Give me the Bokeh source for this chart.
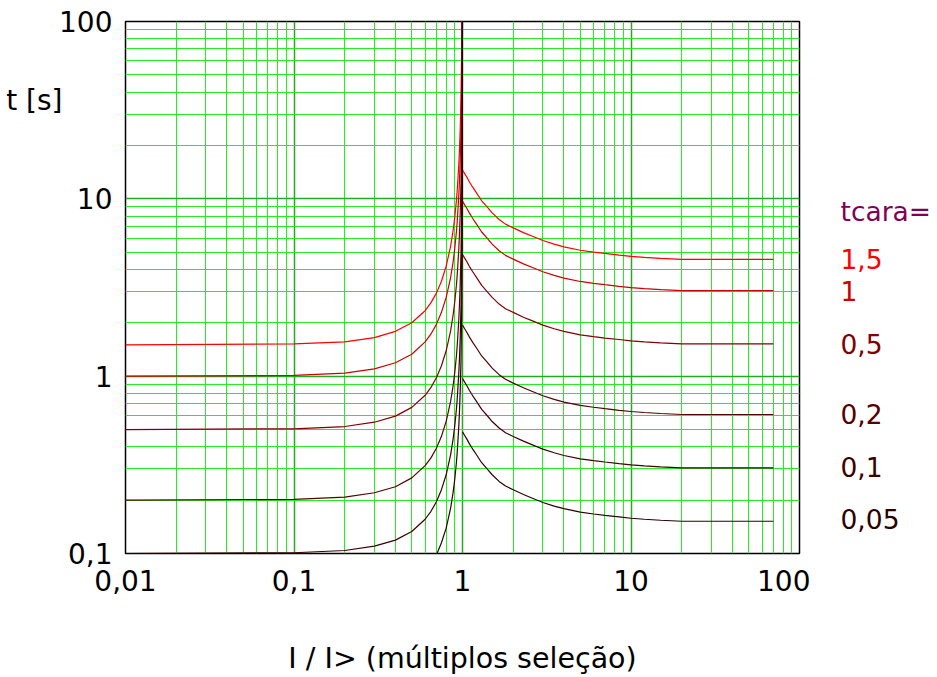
from bokeh.plotting import figure
from bokeh.models import Range1d, FixedTicker, LogAxis, ColumnDataSource
from bokeh.layouts import row
from bokeh.core.properties import value
from bokeh.embed import file_html
from bokeh.resources import INLINE

# ---- data ----
tcara_title = "tcara="
tcara_labels = ["1,5", "1", "0,5", "0,2", "0,1", "0,05"]
curve_colors = ["#ff0000", "#cc0000", "#800000", "#550000", "#3a0000", "#2b0000"]
title_color = "#800055"
# vertical position (t value) of the label baselines at the right
tcara_title_t = 8.52
label_t = [4.56, 3.01, 1.51, 0.608, 0.306, 0.156]

# left branch (I/I> < 1)
i_left = [0.01, 0.1, 0.2, 0.3, 0.4, 0.5, 0.6, 0.65, 0.7, 0.75, 0.8, 0.85, 0.88,
          0.9, 0.92, 0.93, 0.95, 0.96, 0.97, 0.98, 0.99, 0.995, 0.9975, 0.999, 0.9999]
t_left_15 = [1.5, 1.52, 1.56, 1.65, 1.79, 2.0, 2.34, 2.6, 2.94, 3.43, 4.17, 5.4,
             6.65, 7.9, 9.77, 11.1, 15.4, 19.2, 25.3, 38.0, 75.0, 150, 300, 750, 7500]
t_left_1 = [1.0, 1.01, 1.04, 1.1, 1.19, 1.33, 1.56, 1.73, 1.96, 2.29, 2.78, 3.6,
            4.43, 5.26, 6.51, 7.4, 10.3, 12.8, 16.9, 25.3, 50.3, 100.3, 200, 500, 5000]
t_left_05 = [0.5, 0.505, 0.52, 0.55, 0.595, 0.667, 0.78, 0.865, 0.98, 1.145, 1.39,
             1.8, 2.22, 2.63, 3.26, 3.7, 5.15, 6.4, 8.45, 12.6, 25.1, 50.1, 100, 250, 2500]
t_left_02 = [0.2, 0.202, 0.208, 0.22, 0.238, 0.267, 0.313, 0.346, 0.392, 0.458,
             0.556, 0.72, 0.886, 1.05, 1.3, 1.48, 2.06, 2.56, 3.38, 5.05, 10.05,
             20.05, 40, 100, 1000]
t_left_01 = [0.1, 0.101, 0.104, 0.11, 0.119, 0.133, 0.156, 0.173, 0.196, 0.229,
             0.278, 0.36, 0.443, 0.526, 0.651, 0.74, 1.03, 1.28, 1.69, 2.53, 5.03,
             10.0, 20.0, 50, 500]
t_left_005 = [0.05, 0.0505, 0.052, 0.055, 0.0595, 0.0667, 0.078, 0.0865, 0.098,
              0.115, 0.139, 0.18, 0.222, 0.263, 0.326, 0.37, 0.515, 0.64, 0.845,
              1.26, 2.51, 5.0, 10, 25, 250]

# right branch (I/I> > 1)
i_right = [1.0, 1.03, 1.06, 1.1, 1.15, 1.2, 1.3, 1.4, 1.5, 1.65, 1.8, 2.0, 2.3,
           2.6, 3.0, 3.5, 4.0, 5.0, 6.0, 7.0, 8.5, 10, 12, 15, 20, 70]
t_right_15 = [14.55, 13.88, 13.28, 12.45, 11.63, 10.95, 9.75, 9.0, 8.33, 7.65, 7.2,
              6.86, 6.45, 6.15, 5.82, 5.55, 5.36, 5.13, 5.01, 4.92, 4.82, 4.74,
              4.68, 4.62, 4.56, 4.56]
t_right_1 = [9.7, 9.25, 8.85, 8.3, 7.75, 7.3, 6.5, 6.0, 5.55, 5.1, 4.8, 4.57, 4.3,
             4.1, 3.88, 3.7, 3.57, 3.42, 3.34, 3.28, 3.21, 3.16, 3.12, 3.08, 3.04, 3.04]
t_right_05 = [4.85, 4.63, 4.43, 4.15, 3.88, 3.65, 3.25, 3.0, 2.78, 2.55, 2.4, 2.29,
              2.15, 2.05, 1.94, 1.85, 1.79, 1.71, 1.67, 1.64, 1.61, 1.58, 1.56,
              1.54, 1.52, 1.52]
t_right_02 = [1.94, 1.85, 1.77, 1.66, 1.55, 1.46, 1.3, 1.2, 1.11, 1.02, 0.96, 0.914,
              0.86, 0.82, 0.776, 0.74, 0.714, 0.684, 0.668, 0.656, 0.642, 0.632,
              0.624, 0.616, 0.608, 0.608]
t_right_01 = [0.97, 0.925, 0.885, 0.83, 0.775, 0.73, 0.65, 0.6, 0.555, 0.51, 0.48,
              0.457, 0.43, 0.41, 0.388, 0.37, 0.357, 0.342, 0.334, 0.328, 0.321,
              0.316, 0.312, 0.308, 0.304, 0.304]
t_right_005 = [0.485, 0.463, 0.443, 0.415, 0.388, 0.365, 0.325, 0.3, 0.278, 0.255,
               0.24, 0.229, 0.215, 0.205, 0.194, 0.185, 0.179, 0.171, 0.167, 0.164,
               0.161, 0.158, 0.156, 0.154, 0.152, 0.152]

left_series = [t_left_15, t_left_1, t_left_05, t_left_02, t_left_01, t_left_005]
right_series = [t_right_15, t_right_1, t_right_05, t_right_02, t_right_01, t_right_005]

x_major = [0.01, 0.1, 1, 10, 100]
x_major_text = ["0,01", "0,1", "1", "10", "100"]
y_major = [0.1, 1, 10, 100]
y_major_text = ["0,1", "1", "10", "100"]
y_title = "t [s]"
y_title_t = 36.0
x_title = "I / I> (múltiplos seleção)"

FONT = "DejaVu Sans"

yr = Range1d(0.1, 100)
p = figure(width=810, height=677, x_axis_type="log", y_axis_type="log",
           x_range=Range1d(0.01, 100), y_range=yr,
           output_backend="svg", toolbar_location=None,
           min_border_left=125, min_border_right=11, min_border_top=21,
           min_border_bottom=124)
p.background_fill_color = "white"
p.border_fill_color = "white"
p.outline_line_color = "black"
p.outline_line_width = 1.5

x_minor = [m * 10.0 ** e for e in range(-2, 2) for m in range(2, 10)]
y_minor = [m * 10.0 ** e for e in range(-1, 2) for m in range(2, 10)]
xt = FixedTicker(ticks=x_major, minor_ticks=x_minor)
yt = FixedTicker(ticks=y_major, minor_ticks=y_minor)
p.xaxis.ticker = xt
p.yaxis.ticker = yt
p.xgrid.ticker = xt
p.ygrid.ticker = yt

for g in (p.xgrid, p.ygrid):
    g.grid_line_color = "#22aa22"
    g.grid_line_width = 1.5
    g.minor_grid_line_color = "#22ee22"
    g.minor_grid_line_width = 1

p.xaxis.major_label_overrides = dict(zip(x_major, x_major_text))
p.yaxis.major_label_overrides = dict(zip(y_major, y_major_text))

for ax in (p.xaxis, p.yaxis):
    ax.axis_line_color = None
    ax.major_tick_line_color = None
    ax.minor_tick_line_color = None
    ax.major_tick_out = 0
    ax.major_tick_in = 0
    ax.minor_tick_out = 0
    ax.minor_tick_in = 0
    ax.major_label_text_font = FONT
    ax.major_label_text_font_size = "28px"
    ax.major_label_text_color = "black"
p.xaxis.major_label_standoff = 16
p.yaxis.major_label_standoff = 13

p.xaxis.axis_label = x_title
p.xaxis.axis_label_text_font = FONT
p.xaxis.axis_label_text_font_size = "28.5px"
p.xaxis.axis_label_text_font_style = "normal"
p.xaxis.axis_label_text_color = "black"
p.xaxis.axis_label_standoff = 48

# horizontal y-axis title, as an extra left axis with a single labelled tick
tax = LogAxis(ticker=FixedTicker(ticks=[y_title_t], minor_ticks=[]),
              major_label_overrides={y_title_t: y_title},
              axis_line_color=None, major_tick_line_color=None,
              minor_tick_line_color=None, major_tick_out=0, major_tick_in=0,
              minor_tick_out=0, minor_tick_in=0, major_label_standoff=-6,
              major_label_text_font=FONT, major_label_text_font_size="28px",
              major_label_text_color="black")
p.add_layout(tax, "left")

for tl, tr, col in zip(left_series, right_series, curve_colors):
    p.line(i_left, tl, line_color=col, line_width=1.2)
    p.line(i_right, tr, line_color=col, line_width=1.2)

# right-hand "tcara=" legend column
p2 = figure(width=127, height=677, x_range=Range1d(0, 127), y_range=yr,
            y_axis_type="log", x_axis_location=None, y_axis_location=None,
            output_backend="svg", toolbar_location=None,
            min_border_left=0, min_border_right=0, min_border_top=21,
            min_border_bottom=124)
p2.outline_line_color = None
p2.grid.visible = False
p2.background_fill_color = "white"
p2.border_fill_color = "white"

src = ColumnDataSource(dict(
    x=[30] * (len(tcara_labels) + 1),
    y=[tcara_title_t] + label_t,
    text=[tcara_title] + tcara_labels,
    color=[title_color] + curve_colors,
))
p2.text(x="x", y="y", text="text", text_color="color", source=src,
        text_font=value(FONT), text_font_size="26.5px",
        text_baseline="alphabetic", text_align="left")

open("out.html", "w").write(file_html(row(p, p2), INLINE))
